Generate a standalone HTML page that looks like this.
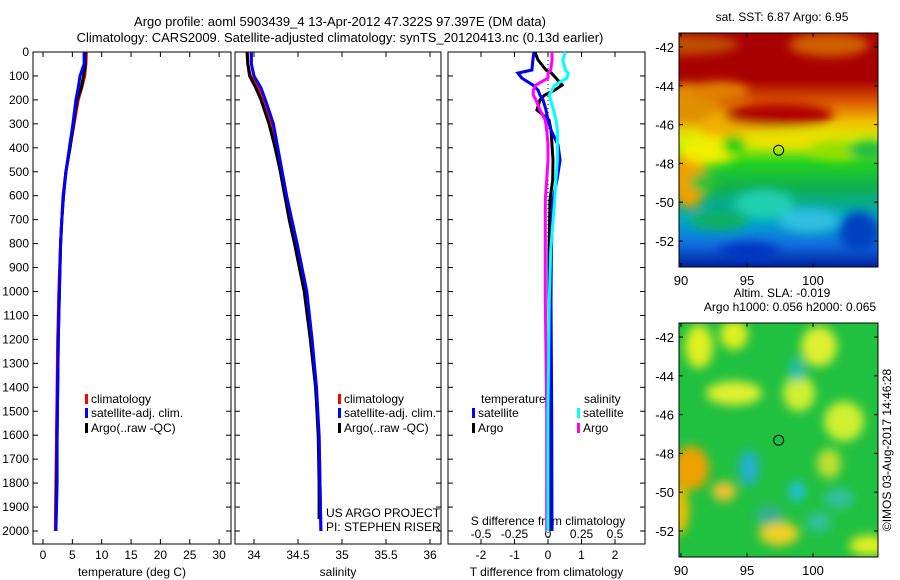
<!DOCTYPE html>
<html><head><meta charset="utf-8"><style>
body{margin:0;background:#fff}
svg{display:block;font-family:"Liberation Sans",sans-serif;font-size:12px}
</style></head><body>
<svg id="c" width="900" height="580" viewBox="0 0 900 580">
<defs>
<filter id="bl1" x="-20%" y="-20%" width="140%" height="140%"><feGaussianBlur stdDeviation="5"/></filter>
<filter id="bl2" x="-30%" y="-30%" width="160%" height="160%"><feGaussianBlur stdDeviation="4"/></filter>
<clipPath id="cm1"><rect x="679" y="33" width="199" height="234"/></clipPath>
<clipPath id="cm2"><rect x="679" y="323" width="199" height="234"/></clipPath>
<linearGradient id="sstg" x1="0" y1="0" x2="0" y2="1">
<stop offset="0" stop-color="#a80000"/><stop offset="0.2" stop-color="#a80000"/>
<stop offset="0.3" stop-color="#e06000"/><stop offset="0.38" stop-color="#f0c000"/>
<stop offset="0.46" stop-color="#d8f000"/><stop offset="0.56" stop-color="#20d020"/>
<stop offset="0.66" stop-color="#10b050"/><stop offset="0.8" stop-color="#00a8c8"/>
<stop offset="0.9" stop-color="#1070e0"/><stop offset="1" stop-color="#0020a0"/>
</linearGradient>
</defs>
<text x="340" y="26" text-anchor="middle" font-size="13">Argo profile: aoml 5903439_4 13-Apr-2012 47.322S 97.397E (DM data)</text>
<text x="340" y="42" text-anchor="middle" font-size="13">Climatology: CARS2009. Satellite-adjusted climatology: synTS_20120413.nc (0.13d earlier)</text>
<g id="plots"></g>
<g id="maps"></g>
</svg>
<script>
// ---- data ----
const depths=[0,50,100,150,200,300,400,500,600,700,800,1000,1200,1400,1600,1800,2000];
const tempClim=[7.4,7.3,7.1,6.6,6.0,5.3,4.6,3.9,3.4,3.2,3.0,2.7,2.5,2.4,2.3,2.2,2.1];
const tempSat=[7.0,7.0,6.3,6.0,5.6,5.1,4.5,3.9,3.5,3.2,3.0,2.8,2.6,2.5,2.4,2.4,2.2];
const tempArgo=[7.2,7.2,6.9,6.5,5.8,5.2,4.6,3.9,3.5,3.2,3.0,2.8,2.6,2.5,2.4,2.3,2.2];
const salClim=[33.93,33.93,33.96,34.05,34.1,34.2,34.26,34.3,34.35,34.42,34.48,34.58,34.65,34.7,34.74,34.75,34.76];
const salSat=[33.97,33.97,34.0,34.08,34.13,34.22,34.27,34.32,34.37,34.43,34.49,34.6,34.66,34.71,34.74,34.75,34.76];
const salArgo=[33.92,33.93,33.95,34.02,34.08,34.17,34.24,34.3,34.35,34.4,34.46,34.57,34.64,34.7,34.73,34.74,34.74];
const diffDepths=[0,33,75,88,109,138,159,180,200,242,284,326,388,451,534,618,827,1035,1500,2000];
const tDiffSat=[-0.42,-0.45,-0.48,-0.9,-0.78,-0.45,-0.3,-0.24,-0.15,-0.06,0.0,0.09,0.3,0.36,0.27,0.15,0.1,0.09,0.11,0.12];
const tDiffArgo=[-0.39,-0.3,-0.06,0.1,0.24,0.42,0.2,-0.1,-0.24,-0.33,0.03,0.09,0.12,0.15,0.14,0.06,0.03,0.03,0.03,0.03];
const sDiffArgo=[0.03,0.03,0.02,0.0,0.0,-0.09,-0.11,-0.11,-0.09,-0.06,-0.02,-0.01,0.0,0.0,-0.01,-0.02,-0.02,-0.02,-0.01,-0.01];
const sDiffSat=[0.13,0.11,0.13,0.15,0.14,0.05,0.03,0.01,0.02,0.04,0.06,0.07,0.07,0.07,0.06,0.05,0.02,0.01,0.0,0.0];
const depthTicks=[0,100,200,300,400,500,600,700,800,900,1000,1100,1200,1300,1400,1500,1600,1700,1800,1900,2000];
const tTicks=[0,5,10,15,20,25,30];
const sTicks=[34,34.5,35,35.5,36];
const dTTicks=[-2,-1,0,1,2];
const dSTicks=[-0.5,-0.25,0,0.25,0.5];
const latTicks=[-42,-44,-46,-48,-50,-52];
const lonTicks=[90,95,100];
// ---- helpers ----
const NS="http://www.w3.org/2000/svg";
const P=document.getElementById('plots');
function mk(tag,attrs,parent,txt){const e=document.createElementNS(NS,tag);for(const k in attrs)e.setAttribute(k,attrs[k]);if(txt!==undefined)e.textContent=txt;(parent||P).appendChild(e);return e;}
const yD=d=>52+d*0.2395;
const PB=544;
const panels=[
 {l:33,r:231,x:v=>43+v*5.87,ticks:tTicks,label:'temperature (deg C)',name:'temperature-panel'},
 {l:235,r:441,x:v=>254+(v-34)*88,ticks:sTicks,label:'salinity',name:'salinity-panel'},
 {l:448,r:645,x:v=>548+v*33.5,ticks:dTTicks,label:'T difference from climatology',name:'difference-panel'}];
panels.forEach((p,i)=>{
 const g=mk('g',{});
 
 
 const fr=mk('rect',{x:p.l,y:52,width:p.r-p.l,height:PB-52,fill:'none',stroke:'#000','stroke-width':1},g);
 
 
 depthTicks.forEach(d=>{
  mk('line',{x1:p.l,x2:p.l+5,y1:yD(d),y2:yD(d),stroke:'#000'},g);
  mk('line',{x1:p.r,x2:p.r-5,y1:yD(d),y2:yD(d),stroke:'#000'},g);
  if(i==0){const t=mk('text',{x:p.l-4,y:yD(d)+4,'text-anchor':'end'},g,String(d));
   
   }
 });
 p.ticks.forEach(v=>{
  const x=p.x(v);
  mk('line',{x1:x,x2:x,y1:PB,y2:PB-5,stroke:'#000'},g);
  mk('line',{x1:x,x2:x,y1:52,y2:57,stroke:'#000'},g);
  const t=mk('text',{x:x,y:559,'text-anchor':'middle'},g,String(v));
  
  
 });
 const xl=mk('text',{x:(p.l+p.r)/2,y:576,'text-anchor':'middle'},g,p.label);
 
 
});
// S difference axis labels
const sx=v=>548+v*134;
dSTicks.forEach(v=>{const t=mk('text',{x:sx(v),y:538,'text-anchor':'middle'},P,String(v));
 
 });
const st=mk('text',{x:548,y:525,'text-anchor':'middle'},P,'S difference from climatology');


// zero dotted line
mk('line',{x1:548,x2:548,y1:52,y2:PB,stroke:'#000','stroke-dasharray':'1,3'});
function line(xs,ds,fx,col,name,w){
 const pts=xs.map((v,i)=>fx(v).toFixed(1)+','+yD(ds[i]).toFixed(1)).join(' ');
 const e=mk('polyline',{points:pts,fill:'none',stroke:col,'stroke-width':w||3});
 
 
}
line(tempClim,depths,panels[0].x,'#f00','temp-climatology-line');
line(tempArgo,depths,panels[0].x,'#000','temp-argo-line');
line(tempSat,depths,panels[0].x,'#00f','temp-satellite-line');
line(salClim,depths,panels[1].x,'#f00','sal-climatology-line');
line(salArgo.slice(0,16).concat([34.74]),depths.slice(0,16).concat([1950]),panels[1].x,'#000','sal-argo-line');
line(salSat,depths,panels[1].x,'#00f','sal-satellite-line');
line(tDiffArgo,diffDepths,panels[2].x,'#000','tdiff-argo-line');
line(tDiffSat,diffDepths,panels[2].x,'#00f','tdiff-satellite-line');
line(sDiffArgo,diffDepths,sx,'#f0f','sdiff-argo-line');
line(sDiffSat,diffDepths,sx,'#0ff','sdiff-satellite-line');
function leg(x,y,col,txt,name){
 const g=mk('g',{});
 
 
 mk('rect',{x:x,y:y-9,width:3,height:10,fill:col},g);
 mk('text',{x:x+6,y:y},g,txt);
}
leg(85,403,'#f00','climatology','legend-climatology');
leg(85,417,'#00f','satellite-adj. clim.','legend-satellite');
leg(85,432,'#000','Argo(..raw -QC)','legend-argo');
leg(338,403,'#f00','climatology','legend-climatology-2');
leg(338,417,'#00f','satellite-adj. clim.','legend-satellite-2');
leg(338,432,'#000','Argo(..raw -QC)','legend-argo-2');
mk('text',{x:481,y:403},P,'temperature');
mk('text',{x:584,y:403},P,'salinity');
leg(472,417,'#00f','satellite','legend-t-satellite');
leg(472,432,'#000','Argo','legend-t-argo');
leg(577,417,'#0ff','satellite','legend-s-satellite');
leg(577,432,'#f0f','Argo','legend-s-argo');
mk('text',{x:326,y:517},P,'US ARGO PROJECT');
mk('text',{x:326,y:531},P,'PI: STEPHEN RISER');
// ---- maps ----
const M=document.getElementById('maps');
const sstBlobs=[[0,0.05,60,10,'#c05000'],[150,0.05,40,12,'#d06000'],[10,0.3,30,20,'#e09000'],[10,0.62,18,30,'#f0a000'],[60,0.4,40,15,'#f0b000'],[40,0.25,30,10,'#e08000'],[110,0.45,60,10,'#e8e000'],[100,0.35,55,12,'#b00000'],[160,0.5,30,10,'#90e000'],[190,0.5,20,10,'#20c040'],[30,0.5,30,14,'#f0f000'],[25,0.64,14,10,'#30c030'],[85,0.73,30,14,'#20d0b0'],[130,0.8,30,12,'#30c0e0'],[70,0.93,30,8,'#0030c0'],[180,0.85,20,20,'#0040c0'],[55,0.48,12,10,'#10d010'],[40,0.8,30,10,'#10b060']];
const slaBlobs=[[20,0.1,14,22,'#e0f020'],[55,0.05,14,15,'#e0f020'],[140,0.1,18,20,'#e0f030'],[55,0.3,28,12,'#e0f030'],[120,0.3,16,18,'#d0f030'],[165,0.42,20,20,'#d0f030'],[12,0.62,18,22,'#f0a000'],[0,0.8,10,25,'#f0c000'],[45,0.72,12,10,'#f0c030'],[100,0.9,20,12,'#f0d020'],[190,0.95,20,10,'#e0f020'],[70,0.62,10,18,'#20b0d0'],[118,0.72,8,10,'#20c0e0'],[118,0.2,8,12,'#20c0b0'],[160,0.75,15,10,'#30c0a0'],[90,0.82,14,10,'#30b090'],[140,0.85,12,10,'#30c0a0'],[150,0.6,12,15,'#c0e030']];
function drawMap(y0,base,blobs,title,title2,name,clip){
 const g=mk('g',{},M);
 
 
 const cg=mk('g',{'clip-path':'url(#'+clip+')'},g);
 mk('rect',{x:679,y:y0,width:199,height:234,fill:base},cg);
 const bg=mk('g',{filter:'url(#bl1)'},cg);
 blobs.forEach(b=>{mk('ellipse',{cx:679+b[0],cy:y0+b[1]*234,rx:b[2],ry:b[3],fill:b[4]},bg);});
 mk('rect',{x:679,y:y0,width:199,height:234,fill:'none',stroke:'#000'},g);
 const lat=v=>y0+14+(-42-v)*19.4;
 const lon=v=>681+(v-90)*13.2;
 latTicks.forEach(v=>{mk('line',{x1:679,x2:683,y1:lat(v),y2:lat(v),stroke:'#000'},g);mk('line',{x1:878,x2:874,y1:lat(v),y2:lat(v),stroke:'#000'},g);
  const t=mk('text',{x:674,y:lat(v)+5,'text-anchor':'end','font-size':13},g,String(v));
  
  });
 lonTicks.forEach(v=>{mk('line',{x1:lon(v),x2:lon(v),y1:y0+234,y2:y0+230,stroke:'#000'},g);mk('line',{x1:lon(v),x2:lon(v),y1:y0,y2:y0+4,stroke:'#000'},g);
  const t=mk('text',{x:lon(v),y:y0+252,'text-anchor':'middle','font-size':13},g,String(v));
  
  });
 const c=mk('circle',{cx:lon(97.397),cy:lat(-47.322),r:5,fill:'none',stroke:'#000'},g);
 
 
 mk('text',{x:782,y:title2?y0-26:y0-12,'text-anchor':'middle'},g,title);
 if(title2)mk('text',{x:790,y:y0-12,'text-anchor':'middle'},g,title2);
}
drawMap(33,'url(#sstg)',sstBlobs,'sat. SST: 6.87 Argo: 6.95',null,'sst-map','cm1');
drawMap(323,'#20c040',slaBlobs,'Altim. SLA: -0.019','Argo h1000: 0.056 h2000: 0.065','sla-map','cm2');
const cr=mk('text',{x:0,y:0,transform:'translate(891,450) rotate(-90)','text-anchor':'middle'},M,'©IMOS 03-Aug-2017 14:46:28');


</script>
</body></html>
